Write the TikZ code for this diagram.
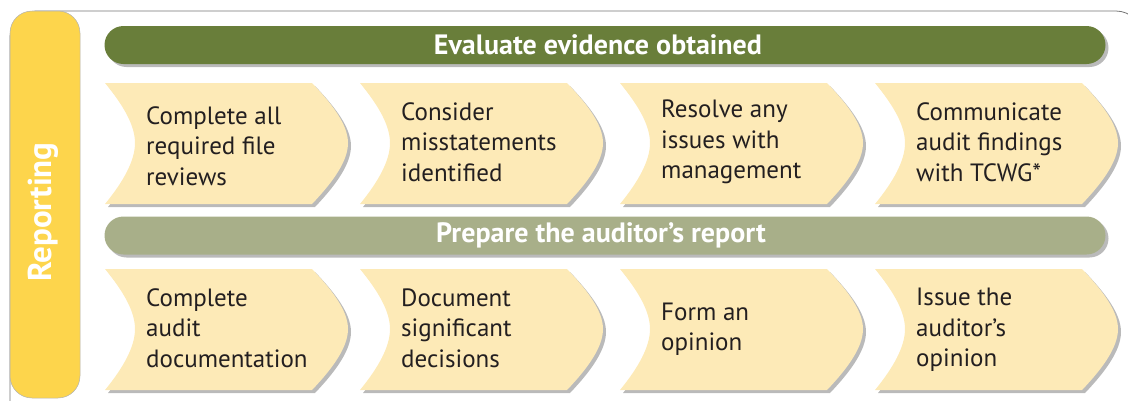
\documentclass[tikz,border=0pt]{standalone}
\usepackage{fontspec}
\setmainfont{PT Sans}
\usetikzlibrary{shadows}
\definecolor{tabyellow}{HTML}{FDD54C}
\definecolor{bardark}{HTML}{697E3A}
\definecolor{barlight}{HTML}{A8AF89}
\definecolor{chevfill}{HTML}{FDEAB7}
\definecolor{textdark}{HTML}{231F20}

\begin{document}
\begin{tikzpicture}[x=1pt,y=-1pt,
    shade/.style={drop shadow={shadow xshift=3pt,shadow yshift=-3pt,opacity=0.45,fill=black!60}},
    bar/.style={shade,rounded corners=19pt,minimum width=1001pt,minimum height=38pt,inner sep=0pt},
    bartext/.style={inner sep=0pt,text=white,font=\fontsize{28}{30}\selectfont\bfseries},
    chevtext/.style={anchor=west,align=left,inner sep=0pt,text=textdark,
        font=\fontsize{25}{30.5}\selectfont}]
\useasboundingbox (0,0) rectangle (1128,400);
\clip (0,0) rectangle (1128,400);
% frame and side tab
\draw[black!55,line width=0.8pt,rounded corners=26pt] (10,11) rectangle (1142,440);
\fill[tabyellow,draw=black!30,line width=0.5pt,rounded corners=22pt] (10,11) rectangle (80,398);
\node at (43,212) [rotate=90,text=white,font=\fontsize{33}{36}\selectfont\bfseries] (tab) {Reporting};
% bars
\node at (605,45) [bar,fill=bardark] (evaluate) {};
\node at (598,45) [bartext] (evaluatetxt) {Evaluate evidence obtained};
\node at (605,235.5) [bar,fill=barlight] (prepare) {};
\node at (601,235.5) [bartext] (preparetxt) {Prepare the auditor’s report};
% chevrons
\foreach \x/\y/\ty/\name/\txt in {
    105/83/146/reviews/{Complete all\\required file\\reviews},
    360/83/142/misstate/{Consider\\misstatements\\identified},
    620/83/142/resolve/{Resolve any\\issues with\\management},
    875/83/142/communicate/{Communicate\\audit findings\\with TCWG*},
    105/269/328/documentation/{Complete\\audit\\documentation},
    360/269/328/decisions/{Document\\significant\\decisions},
    620/269/329/opinion/{Form an\\opinion},
    875/269/330/issue/{Issue the\\auditor’s\\opinion}} {
    \fill[chevfill,shade] (\x,\y) -- (\x+207,\y)
        .. controls (\x+228,\y+22) and (\x+243,\y+42) .. (\x+243,\y+60)
        .. controls (\x+243,\y+78) and (\x+228,\y+99) .. (\x+207,\y+121)
        -- (\x,\y+121)
        .. controls (\x+18,\y+99) and (\x+30,\y+78) .. (\x+30,\y+60)
        .. controls (\x+30,\y+42) and (\x+18,\y+22) .. cycle;
    \node at (\x+41,\ty) [chevtext] (\name) {\txt};
}
\end{tikzpicture}
\end{document}
